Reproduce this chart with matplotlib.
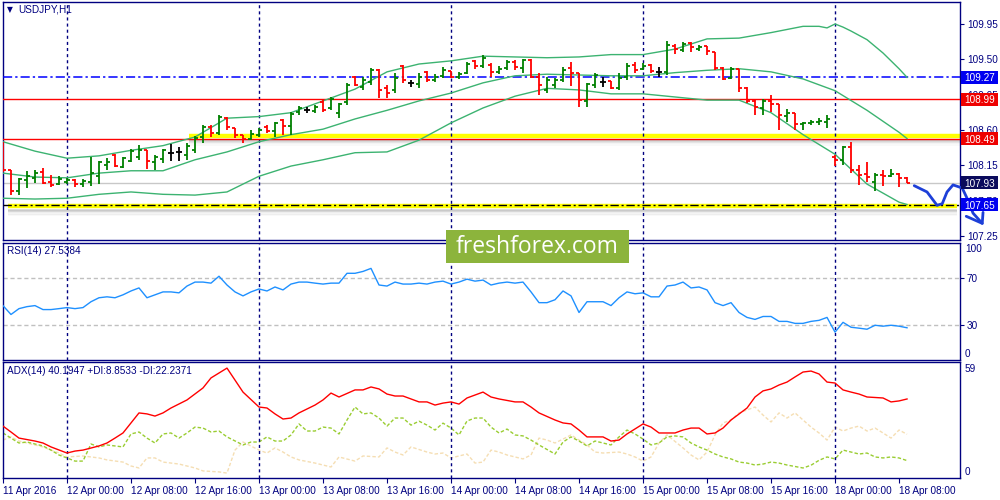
import matplotlib
matplotlib.use("Agg")
import matplotlib.pyplot as plt
import matplotlib.transforms as mtransforms
from matplotlib.patches import Rectangle
from matplotlib.collections import LineCollection

plt.rcParams['font.family'] = ['Liberation Sans', 'DejaVu Sans']

# ---------------- data ----------------
title = "USDJPY,H1"

opens = [108.41,108.09,107.82,107.96,107.99,108.06,107.94,107.91,107.94,107.96,
         107.91,107.94,108.01,108.15,108.28,108.13,108.20,108.26,108.34,108.19,
         108.23,108.31,108.32,108.28,108.34,108.51,108.64,108.56,108.75,108.63,
         108.54,108.48,108.54,108.64,108.59,108.73,108.65,108.83,108.85,108.84,
         108.96,108.88,108.82,108.96,109.27,109.15,109.21,109.36,109.13,109.11,
         109.41,109.20,109.19,109.34,109.24,109.29,109.35,109.27,109.33,109.48,
         109.41,109.43,109.34,109.39,109.47,109.39,109.49,109.27,109.11,109.17,
         109.24,109.39,109.33,108.97,109.17,109.21,109.22,109.13,109.27,109.43,
         109.38,109.43,109.34,109.34,109.67,109.62,109.71,109.63,109.67,109.59,
         109.39,109.26,109.38,109.13,108.97,108.88,108.97,108.93,108.78,108.82,
         108.68,108.69,108.70,108.70,108.26,108.22,108.38,108.09,108.04,107.94,
         108.03,108.01,108.04,107.99]
highs = [108.45,108.09,107.99,108.08,108.09,108.12,108.03,108.01,107.99,107.98,
         107.98,108.26,108.20,108.24,108.29,108.26,108.36,108.41,108.34,108.28,
         108.36,108.42,108.38,108.43,108.52,108.66,108.66,108.79,108.77,108.63,
         108.54,108.60,108.63,108.66,108.70,108.74,108.83,108.91,108.89,108.92,
         108.98,109.02,108.94,109.20,109.29,109.27,109.39,109.38,109.17,109.33,
         109.43,109.24,109.33,109.35,109.31,109.40,109.35,109.34,109.47,109.49,
         109.56,109.45,109.41,109.49,109.49,109.50,109.50,109.33,109.27,109.26,
         109.40,109.47,109.33,109.20,109.33,109.27,109.22,109.33,109.45,109.47,
         109.45,109.44,109.40,109.73,109.70,109.72,109.72,109.68,109.67,109.59,
         109.40,109.40,109.38,109.15,108.99,108.99,109.05,108.93,108.87,108.82,
         108.70,108.73,108.75,108.79,108.28,108.40,108.45,108.15,108.19,108.05,
         108.09,108.10,108.05,108.00]
lows = [108.06,107.77,107.77,107.86,107.93,107.91,107.87,107.90,107.91,107.87,
        107.87,107.89,107.91,108.09,108.13,108.12,108.19,108.22,108.10,108.09,
        108.18,108.20,108.20,108.22,108.31,108.43,108.51,108.54,108.60,108.50,
        108.43,108.47,108.51,108.56,108.51,108.54,108.54,108.79,108.82,108.82,
        108.83,108.85,108.75,108.92,109.16,109.11,109.17,109.01,109.01,109.07,
        109.20,109.15,109.13,109.21,109.21,109.26,109.26,109.25,109.31,109.38,
        109.39,109.27,109.31,109.36,109.36,109.33,109.26,109.05,109.07,109.13,
        109.21,109.16,108.89,108.89,109.13,109.15,109.12,109.11,109.24,109.33,
        109.36,109.33,109.27,109.30,109.57,109.59,109.59,109.61,109.56,109.36,
        109.24,109.25,109.08,108.94,108.79,108.79,108.83,108.60,108.70,108.60,
        108.60,108.66,108.66,108.63,108.14,108.15,108.05,107.90,107.94,107.82,
        107.89,108.00,107.87,107.93]
closes = [108.09,107.82,107.98,108.01,108.05,107.93,107.90,107.98,107.96,107.91,
          107.95,108.05,108.19,108.19,108.14,108.24,108.33,108.34,108.20,108.26,
          108.34,108.31,108.32,108.40,108.50,108.64,108.56,108.77,108.64,108.54,
          108.48,108.55,108.60,108.59,108.69,108.65,108.80,108.88,108.85,108.89,
          108.85,108.99,108.93,109.17,109.17,109.24,109.36,109.11,109.07,109.26,
          109.24,109.20,109.27,109.24,109.27,109.36,109.27,109.31,109.44,109.41,
          109.52,109.34,109.38,109.47,109.40,109.49,109.27,109.17,109.24,109.24,
          109.36,109.33,108.98,109.19,109.30,109.21,109.13,109.26,109.41,109.36,
          109.41,109.35,109.34,109.68,109.63,109.70,109.66,109.66,109.61,109.39,
          109.25,109.38,109.13,108.97,108.89,108.97,108.93,108.79,108.82,108.68,
          108.69,108.70,108.71,108.74,108.22,108.38,108.09,108.03,108.00,108.03,
          108.01,108.04,107.99,107.93]

bb_idx = [0,4,8,12,16,20,24,28,32,36,40,44,48,52,56,60,64,68,72,76,80,84,88,92,96,100,104,108,112,113]
bb_upper_idx = [0,4,8,12,16,20,24,28,32,36,40,44,48,52,56,60,64,68,72,76,80,84,88,92,96,100,102,103,104,105,106,108,110,112,113]
bb_upper = [108.45,108.33,108.24,108.27,108.34,108.40,108.51,108.75,108.77,108.82,108.97,109.12,
            109.34,109.44,109.48,109.54,109.53,109.52,109.53,109.56,109.56,109.63,109.76,109.77,
            109.84,109.92,109.92,109.90,109.95,109.91,109.86,109.75,109.58,109.38,109.27]
bb_middle = [108.05,108.00,107.99,108.05,108.08,108.08,108.22,108.32,108.45,108.54,108.61,108.74,
             108.85,108.97,109.07,109.20,109.29,109.31,109.30,109.29,109.29,109.33,109.36,109.38,
             109.34,109.25,109.10,108.85,108.57,108.49]
bb_lower = [107.73,107.72,107.73,107.78,107.81,107.78,107.77,107.81,108.01,108.14,108.22,108.31,
            108.32,108.47,108.69,108.88,109.03,109.13,109.11,109.06,109.06,109.02,108.98,108.98,
            108.82,108.54,108.29,107.91,107.68,107.65]

rsi = [46.5,38.9,43.9,45.6,46.5,43.1,43.1,43.9,44.8,43.9,
       44.8,49.8,53.2,54.0,53.2,55.7,59.0,61.6,53.2,55.7,
       58.2,58.2,57.4,63.2,66.6,66.6,65.7,71.6,64.1,58.2,
       54.8,58.2,60.7,59.0,62.4,59.9,64.9,66.6,66.6,65.7,
       64.9,65.7,65.7,74.1,74.1,75.7,78.3,64.1,63.2,66.6,
       64.9,64.9,65.7,64.9,66.6,67.4,64.9,66.6,69.1,67.4,
       68.3,64.1,65.7,66.6,65.7,66.6,58.2,49.0,49.0,51.5,
       59.0,54.8,40.6,49.8,49.8,49.8,46.5,53.2,58.2,56.6,
       57.4,54.0,54.0,63.2,64.1,66.6,61.6,62.4,59.9,49.0,
       46.5,49.0,40.6,36.4,34.7,37.2,37.2,33.0,33.0,31.3,
       31.3,33.0,33.9,36.4,23.8,32.2,28.0,27.2,26.3,29.7,
       28.9,29.7,28.9,27.54]

adx_idx = [0,1,2,4,5,6,8,9,10,12,13,14,15,16,17,18,19,20,21,23,25,26,28,29,30,32,33,34,35,36,
           37,39,40,41,42,44,45,46,47,48,49,50,52,53,54,55,56,57,58,60,61,62,64,65,66,67,69,70,71,72,
           73,75,76,77,78,80,81,82,84,85,86,87,88,89,90,91,93,94,95,96,97,98,99,100,101,102,103,104,105,106,
           107,108,110,111,112,113]
adx_val = [26.4,23.4,20.3,18.8,17.8,15.8,12.7,13.7,14.2,16.3,17.8,20.3,22.9,28.0,33.1,32.6,31.5,33.1,35.6,39.7,
           45.8,50.9,55.9,49.8,43.7,36.1,35.6,32.6,30.0,30.5,33.1,37.1,39.7,43.2,41.2,44.8,44.8,46.3,45.3,42.7,
           41.7,41.7,38.7,38.7,37.1,38.1,38.7,37.6,40.7,43.7,41.2,40.2,38.7,38.7,36.1,33.1,29.5,28.0,27.5,24.4,
           20.9,20.9,18.8,19.3,22.4,27.5,25.9,22.9,22.9,24.4,25.4,25.4,22.4,22.9,25.4,29.5,35.6,41.2,44.3,45.3,
           47.3,48.8,51.4,53.9,54.4,52.9,48.8,48.3,44.8,43.7,42.7,41.2,40.7,38.7,39.2,40.19]

pdi_idx = [0,1,2,3,5,6,7,8,9,10,11,12,13,15,16,17,18,19,20,21,22,23,24,25,26,27,28,30,31,32,
           33,34,35,36,37,38,39,40,41,42,43,44,45,46,47,48,49,50,51,52,53,54,55,56,57,58,59,60,61,62,
           63,64,65,66,67,69,70,71,72,73,74,75,76,77,78,79,80,81,82,83,84,85,86,87,88,89,90,91,92,93,
           94,95,96,97,98,100,101,102,103,104,105,106,107,108,109,110,111,112,113]
pdi_val = [22.9,20.3,17.8,18.3,16.3,14.2,11.7,10.2,8.6,8.6,17.3,15.8,16.8,15.8,22.4,23.4,20.3,17.8,22.4,22.9,
           20.3,22.9,25.9,25.4,23.4,23.9,20.9,16.8,18.3,18.3,20.9,18.8,18.8,21.9,27.5,23.9,23.9,25.9,25.4,22.4,
           29.5,36.1,32.6,33.1,30.5,26.4,30.5,30.5,26.9,28.9,26.9,24.4,27.9,25.4,21.9,29.0,30.5,30.5,25.9,22.9,
           24.9,21.9,21.4,19.3,16.8,12.2,18.3,20.9,18.8,16.3,18.8,17.8,16.8,20.9,24.4,22.4,19.8,16.8,17.8,20.9,
           21.4,20.9,17.8,15.8,14.2,12.2,10.7,9.7,8.1,7.6,6.6,7.1,8.1,7.6,6.6,5.1,6.5,9.0,10.7,9.7,
           14.2,13.2,12.2,12.7,10.7,10.2,10.7,10.2,8.85]

mdi_idx = [0,1,2,3,5,6,7,8,10,11,12,13,15,16,17,18,19,20,22,24,25,27,28,29,30,32,33,34,35,36,
           37,39,41,42,44,45,47,48,49,50,51,53,54,55,56,58,59,60,61,62,63,64,65,66,67,68,69,70,71,72,
           73,74,75,77,78,79,80,81,82,83,85,86,87,88,89,90,91,92,93,94,95,96,97,98,99,100,101,102,103,104,
           105,106,107,108,109,110,111,112,113]
mdi_val = [19.3,20.9,18.8,17.8,15.8,14.2,12.7,10.7,11.2,10.7,10.2,9.2,8.1,6.1,5.1,10.2,10.2,8.1,7.1,5.1,
           3.6,3.1,2.5,14.2,18.3,14.2,12.7,15.3,13.2,10.7,9.2,7.6,5.6,10.7,8.6,11.2,10.7,15.3,13.2,11.7,
           15.8,13.2,12.2,12.7,10.2,12.2,7.6,8.1,14.2,13.2,11.7,10.7,9.7,11.7,20.3,19.3,17.8,19.8,21.9,19.3,
           16.8,13.2,12.7,13.2,12.2,10.7,8.6,10.7,17.8,21.9,15.3,11.7,9.2,13.2,21.9,28.0,29.5,33.1,34.6,36.1,
           32.0,28.5,33.1,30.5,33.1,29.5,25.9,22.9,19.3,25.9,23.9,25.4,26.4,23.9,25.4,22.9,20.3,24.4,22.24]

time_label_idx = [0,8,16,24,32,40,48,56,64,72,80,88,96,104,112]
time_labels = ["11 Apr 2016","12 Apr 00:00","12 Apr 08:00","12 Apr 16:00","13 Apr 00:00",
               "13 Apr 08:00","13 Apr 16:00","14 Apr 00:00","14 Apr 08:00","14 Apr 16:00",
               "15 Apr 00:00","15 Apr 08:00","15 Apr 16:00","18 Apr 00:00","18 Apr 08:00"]
day_sep_idx = [8,32,56,80,104]
price_ticks = [109.95,109.50,109.05,108.60,108.15,107.70,107.25]

level_pivot = 109.27
level_res1 = 108.99
level_res2 = 108.49
level_bid = 107.93
level_sup = 107.65
label_levels = [109.27,108.99,108.49,107.93,107.65]

rsi_text = "RSI(14) 27.5384"
adx_text = "ADX(14) 40.1947 +DI:8.8533 -DI:22.2371"
watermark = "freshforex.com"

# hand-drawn forecast stroke (bar index, price)
sketch_x = [113.9,115.5,116.75,117.4,118.0,118.75,119.9,120.5,121.25,122.4]
sketch_y = [107.89,107.81,107.64,107.66,107.81,107.90,107.86,107.73,107.54,107.41]
sketch_head_x = [120.4,122.4,122.5]
sketch_head_y = [107.50,107.41,107.55]

# ---------------- style ----------------
NAVY = '#000080'
GREEN = '#008000'
RED = '#ff0000'
BB = '#3cb371'
W, H = 1000, 500

fig = plt.figure(figsize=(10, 5), dpi=100)
fig.patch.set_facecolor('white')

def fax(l, t, r, b):
    return [l / W, 1 - b / H, (r - l) / W, (b - t) / H]

ax = fig.add_axes(fax(2.5, 2, 960, 240))
ax_rsi = fig.add_axes(fax(2.5, 243, 960, 360))
ax_adx = fig.add_axes(fax(2.5, 362, 960, 478))

XL = (-0.06, 119.62)
for a in (ax, ax_rsi, ax_adx):
    a.set_xlim(*XL)
    a.set_facecolor('white')
    for s in a.spines.values():
        s.set_color(NAVY)
        s.set_linewidth(1.0)
    a.yaxis.tick_right()
    a.tick_params(axis='y', direction='out', length=3, color=NAVY, labelcolor=NAVY,
                  labelsize=7.2, pad=2, left=False, right=True)
    for d in day_sep_idx:
        a.axvline(d, color=NAVY, lw=1.0, ls=(0, (2.2, 2.2)), zorder=2.5)

# ---- main panel ----
ax.set_ylim(107.198, 110.23)
ppx = (110.23 - 107.198) / 238.0
ax.set_yticks(price_ticks)
ax.set_yticklabels([f"{p:.2f}" for p in price_ticks])
ax.set_xticks([])

# yellow highlight bands with soft shadow
def band(level, x0, x1):
    for k, al in enumerate([0.30, 0.22, 0.15, 0.09, 0.05]):
        ax.hlines(level - (4 + 1.3 * k) * ppx, x0, x1, color='#808080', lw=1.3, alpha=al, zorder=1.5)
    ax.hlines(level, x0, x1, color='#ffff00', lw=3.2, zorder=1.8)

band(level_res2 + 3 * ppx, 23.25, XL[1])
band(level_sup - 1.3 * ppx, 0.6, 119.3)

ax.axhline(level_bid, color='#c8c8c8', lw=1.0, zorder=2)
ax.axhline(level_pivot, color='#0000ff', lw=1.1, ls=(0, (6, 2, 1.5, 2)), zorder=3)
ax.axhline(level_res1, color=RED, lw=1.0, zorder=3)
ax.axhline(level_res2, color=RED, lw=1.0, zorder=3)
ax.axhline(level_sup, color='black', lw=1.0, ls=(0, (6, 2, 1.5, 2)), zorder=3)

ax.plot(bb_upper_idx, bb_upper, color=BB, lw=1.0, zorder=3.5)
ax.plot(bb_idx, bb_middle, color=BB, lw=1.0, zorder=3.5)
ax.plot(bb_idx, bb_lower, color=BB, lw=1.0, zorder=3.5)

segs, cols = [], []
for i, (o, h, l, c) in enumerate(zip(opens, highs, lows, closes)):
    col = GREEN if c > o else (RED if c < o else 'black')
    segs += [[(i, l), (i, h)], [(i - 0.42, o), (i, o)], [(i, c), (i + 0.42, c)]]
    cols += [col, col, col]
ax.add_collection(LineCollection(segs, colors=cols, linewidths=1.3, capstyle='butt', zorder=4))

# price boxes on the right scale (pixel-placed rectangles)
box_colors = ['#0000f0', '#ee0000', '#ee0000', '#0b0b5c', '#0000f0']
for lv, bc in zip(label_levels, box_colors):
    yp = ax.transData.transform((0, lv))[1]
    fig.add_artist(Rectangle((961, yp - 6.5), 37, 13, transform=None, fc=bc, ec='none', zorder=10))
    fig.text(979.5 / W, yp / H, f"{lv:.2f}", color='white', fontsize=7.2,
             va='center_baseline', ha='center', zorder=11)

# hand drawn forecast stroke
ax.plot(sketch_x, sketch_y, color='#1d3fd8', lw=2.0, clip_on=False, zorder=12,
        solid_capstyle='round', solid_joinstyle='round')
ax.plot(sketch_head_x, sketch_head_y, color='#1d3fd8', lw=2.0, clip_on=False, zorder=12,
        solid_capstyle='round', solid_joinstyle='round')

fig.text(7 / W, 1 - 10 / H, '\u25bc', fontsize=5.5, color=NAVY, va='center', ha='left',
         family=['DejaVu Sans'])
fig.text(18 / W, 1 - 10 / H, title, fontsize=7.2, color=NAVY, va='center', ha='left')

# ---- RSI panel ----
ax_rsi.set_ylim(0, 100)
ax_rsi.plot(range(len(rsi)), rsi, color='#1e90ff', lw=1.0, zorder=3)
for lv in (30, 70):
    ax_rsi.axhline(lv, color='#c0c0c0', lw=1.0, ls=(0, (3, 2)), zorder=1)
ax_rsi.set_yticks([30, 70])
ax_rsi.set_yticklabels(['30', '70'])
ax_rsi.set_xticks([])
ax_rsi.text(1.0, 1.0, '100', transform=ax_rsi.transAxes + mtransforms.ScaledTranslation(3.5 / 72, -1 / 72, fig.dpi_scale_trans),
            fontsize=7.2, color=NAVY, va='top', ha='left')
ax_rsi.text(1.0, 0.0, '0', transform=ax_rsi.transAxes + mtransforms.ScaledTranslation(3.5 / 72, 1 / 72, fig.dpi_scale_trans),
            fontsize=7.2, color=NAVY, va='bottom', ha='left')
fig.text(7 / W, 1 - 251 / H, rsi_text, fontsize=7.2, color=NAVY, va='center', ha='left')

# ---- ADX panel ----
ax_adx.set_ylim(0, 59)
ax_adx.plot(mdi_idx, mdi_val, color='#f5deb3', lw=1.0, ls=(0, (2.5, 1.5)), zorder=2)
ax_adx.plot(pdi_idx, pdi_val, color='#9acd32', lw=1.0, ls=(0, (2.5, 1.5)), zorder=2.2)
ax_adx.plot(adx_idx, adx_val, color='#ff0000', lw=1.0, zorder=3)
ax_adx.set_yticks([])
ax_adx.text(1.0, 1.0, '59', transform=ax_adx.transAxes + mtransforms.ScaledTranslation(3.5 / 72, -1.5 / 72, fig.dpi_scale_trans),
            fontsize=7.2, color=NAVY, va='top', ha='left')
ax_adx.text(1.0, 0.0, '0', transform=ax_adx.transAxes + mtransforms.ScaledTranslation(3.5 / 72, 1 / 72, fig.dpi_scale_trans),
            fontsize=7.2, color=NAVY, va='bottom', ha='left')
ax_adx.set_xticks(time_label_idx)
ax_adx.set_xticklabels(time_labels, ha='left')
ax_adx.tick_params(axis='x', direction='out', length=3.5, color=NAVY, labelcolor=NAVY,
                   labelsize=7.2, pad=2.5)
fig.text(7 / W, 1 - 371 / H, adx_text, fontsize=7.2, color=NAVY, va='center', ha='left')

# ---- watermark ----
fig.add_artist(Rectangle((446 / W, 1 - 263 / H), 183 / W, 33 / H, transform=fig.transFigure,
                         fc='#8cb43c', ec='none', zorder=20))
fig.text(537.5 / W, 1 - 247 / H, watermark, fontsize=16.5, color='white', ha='center', va='center',
         family=['Open Sans', 'DejaVu Sans'], zorder=21)

fig.savefig('out.png', dpi=100, facecolor='white')
